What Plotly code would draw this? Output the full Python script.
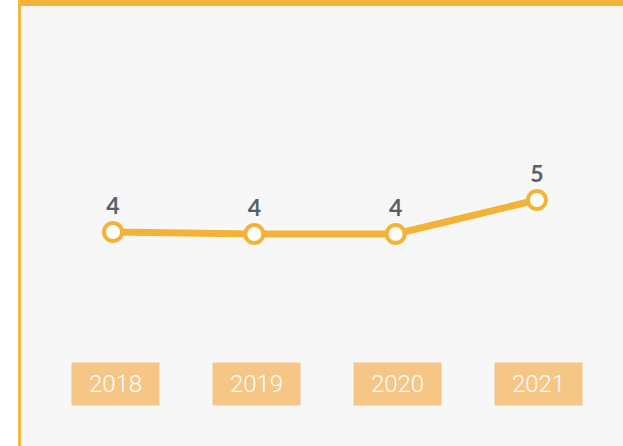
import plotly.graph_objects as go

years = ["2018", "2019", "2020", "2021"]
values = [4.06, 4.0, 4.0, 5.0]
labels = ["4", "4", "4", "5"]

ORANGE = "#f4b336"
BOX = "#f5c686"
TEXT = "#56606b"

fig = go.Figure()

fig.add_trace(
    go.Scatter(
        x=years,
        y=values,
        mode="lines+markers+text",
        text=labels,
        textposition="top center",
        textfont=dict(family="Lato", size=23, color=TEXT, weight="bold"),
        line=dict(color=ORANGE, width=7),
        marker=dict(size=18, color="white", line=dict(color=ORANGE, width=4)),
        cliponaxis=False,
        hoverinfo="skip",
    )
)

# year tags below the line
for i, yr in enumerate(years):
    fig.add_annotation(
        x=i,
        y=-0.4,
        xref="x",
        yref="y",
        xshift=2,
        text=yr,
        showarrow=False,
        width=85,
        height=40,
        bgcolor=BOX,
        font=dict(family="Roboto", size=24, color="white", weight=300),
    )

# frame: top and left orange borders, light panel
fig.add_shape(type="rect", xref="paper", yref="paper", x0=20 / 623, x1=1, y0=0, y1=1,
              fillcolor="#f7f7f7", line_width=0, layer="below")
fig.add_shape(type="rect", xref="paper", yref="paper", x0=18 / 623, x1=1, y0=1 - 6 / 446, y1=1,
              fillcolor=ORANGE, line_width=0, layer="below")
fig.add_shape(type="rect", xref="paper", yref="paper", x0=18 / 623, x1=21 / 623, y0=0, y1=1,
              fillcolor="#f5b840", line_width=0, layer="below")

fig.update_layout(
    width=623,
    height=446,
    margin=dict(l=0, r=0, t=0, b=0),
    paper_bgcolor="white",
    plot_bgcolor="rgba(0,0,0,0)",
    showlegend=False,
)
fig.update_xaxes(type="category", range=[-0.7997, 3.609], visible=False, fixedrange=True)
fig.update_yaxes(range=[-2.235, 10.882], visible=False, fixedrange=True)

fig.write_html(
    "out.html",
    config={"displayModeBar": False},
    post_script="document.body.style.margin='0';",
)
